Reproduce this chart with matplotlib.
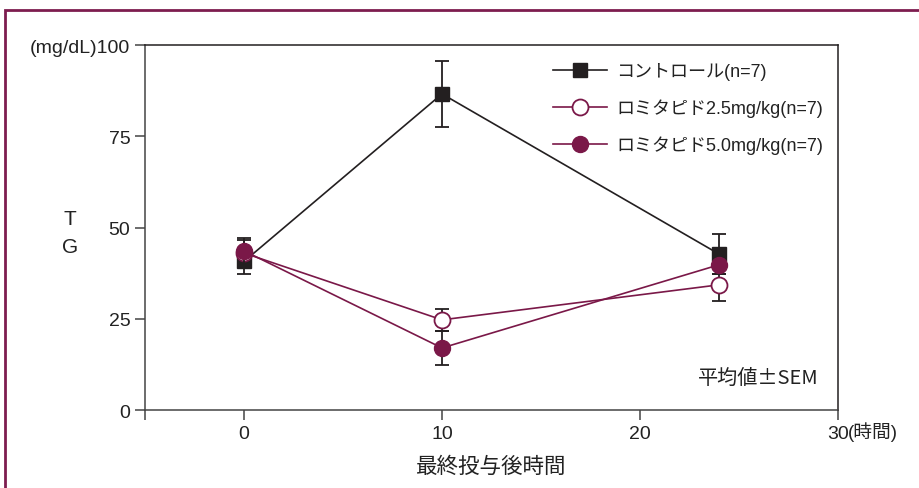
import numpy as np
import matplotlib.pyplot as plt
from matplotlib.patches import Rectangle

plt.rcParams['font.family'] = ['Liberation Sans', 'Noto Sans CJK JP', 'DejaVu Sans']

# Data (TG, mg/dL)
hours = [0, 10, 24]
ctrl_mean = [40.7, 86.6, 42.7]
ctrl_sem = [3.4, 9.0, 5.4]
lomi25_mean = [43.0, 24.7, 34.3]
lomi25_sem = [3.5, 3.0, 4.3]
lomi50_mean = [43.6, 17.0, 39.8]
lomi50_sem = [3.5, 4.6, 2.6]
labels = ['コントロール(n=7)', 'ロミタピド2.5mg/kg(n=7)', 'ロミタピド5.0mg/kg(n=7)']

maroon = '#7a1848'
black = '#231f20'

fig = plt.figure(figsize=(9.19, 4.89), dpi=100)
# maroon frame around the panel
fig.patches.append(Rectangle((5/919, -0.1), 1.2, 1 - 11/489 + 0.1,
                             transform=fig.transFigure, fill=False,
                             edgecolor='#7d1d4f', linewidth=2))

ax = fig.add_axes([145/919, 1 - 411/489, (838 - 145)/919, (411 - 46)/489])

#--- series
eb_kw = dict(ecolor=black, linewidth=1.2, elinewidth=1.3, capsize=5, capthick=1.3)
h0 = ax.errorbar(hours, ctrl_mean, yerr=ctrl_sem, color=black, marker='s',
                 markersize=10.5, label=labels[0], zorder=3, **eb_kw)
h1 = ax.errorbar(hours, lomi25_mean, yerr=lomi25_sem, color=maroon, marker='o',
                 markersize=11.5, markerfacecolor='white', markeredgecolor=maroon,
                 markeredgewidth=1.3, label=labels[1], zorder=4, **eb_kw)
h2 = ax.errorbar(hours, lomi50_mean, yerr=lomi50_sem, color=maroon, marker='o',
                 markersize=11.5, markerfacecolor=maroon, markeredgecolor=maroon,
                 label=labels[2], zorder=5, **eb_kw)

#--- axes
ax.set_xlim(-5, 30)
ax.set_ylim(0, 100)
ax.set_xticks([-5, 0, 10, 20, 30])
ax.set_xticklabels(['', '0', '10', '20', '30'])
ax.set_yticks([0, 25, 50, 75, 100])
ax.set_yticklabels(['0', '25', '50', '75', '(mg/dL)100'])
ax.tick_params(direction='out', length=7, width=1.1, colors='#444444',
               labelcolor='#222222', labelsize=14)
for side in ['left', 'bottom']:
    ax.spines[side].set_color('#444444')
for side in ['top', 'right']:
    ax.spines[side].set_color(black)
for s in ax.spines.values():
    s.set_linewidth(1.1)

ax.text(30.5, -5.9, '(時間)', fontsize=13.5, color='#222222',
        ha='left', va='center', transform=ax.transData, clip_on=False)
ax.set_xlabel('最終投与後時間', fontsize=15.5, color='#222222', labelpad=10)
fig.text(70/919, 1 - 234/489, 'T\nG', fontsize=15, color='#222222',
         ha='center', va='center', linespacing=1.6)

ax.text(0.972, 0.09, '平均値±SEM', transform=ax.transAxes, fontsize=14.5,
        color='#222222', ha='right', va='center',
        family=['Noto Sans CJK JP', 'Liberation Sans'])

leg = ax.legend([h0[0], h1[0], h2[0]], labels, loc='upper left',
                bbox_to_anchor=(0.578, 0.972), frameon=False,
                fontsize=13, handlelength=3.0, handletextpad=0.5,
                labelspacing=1.0, borderaxespad=0)
for t in leg.get_texts():
    t.set_color('#222222')

fig.savefig('out.png', dpi=100)
